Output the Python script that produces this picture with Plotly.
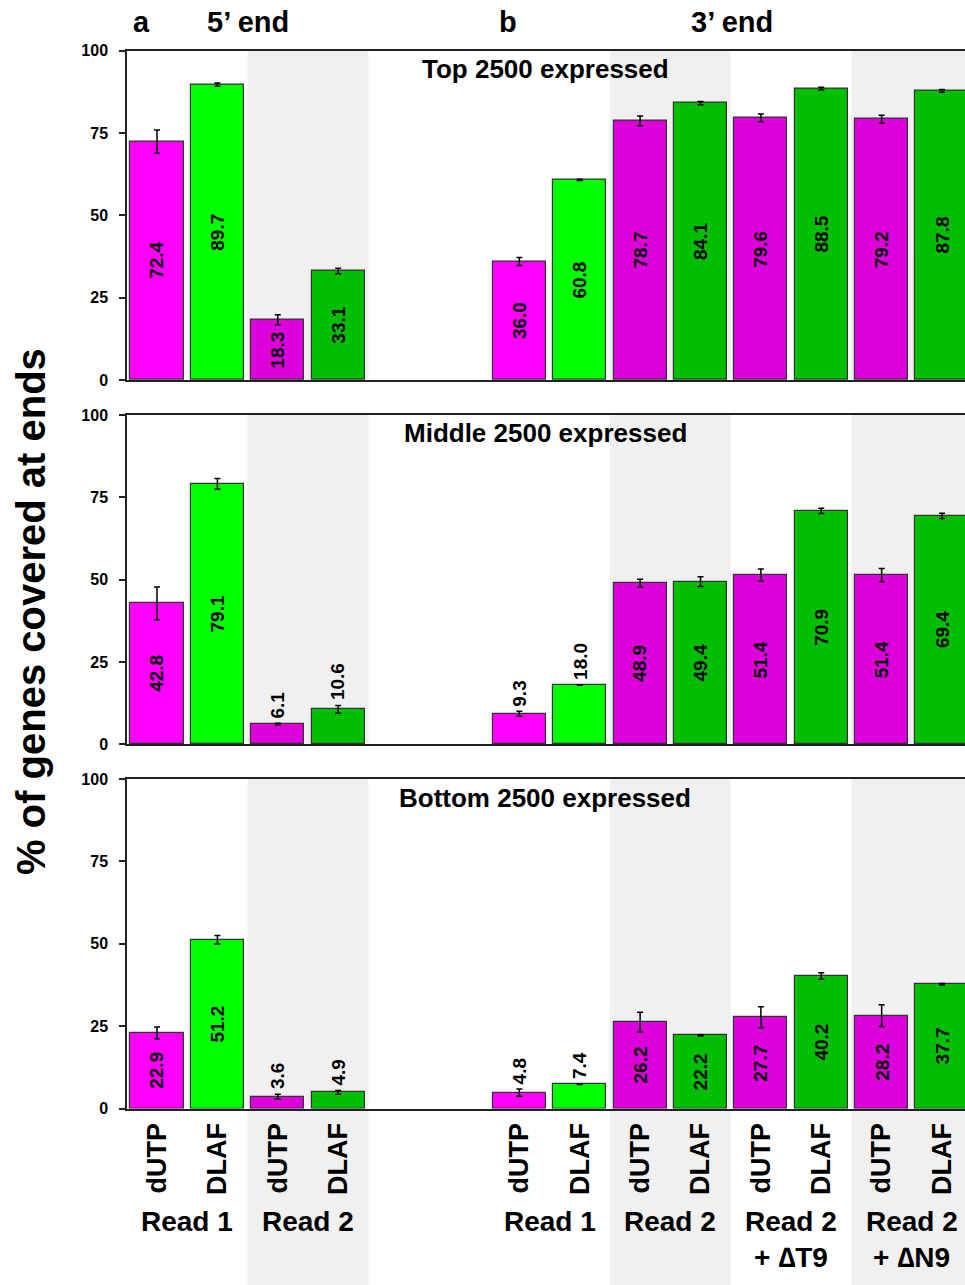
import plotly.graph_objects as go

# ---------------- data ----------------
positions = [0, 1, 2, 3, 6, 7, 8, 9, 10, 11, 12, 13]
methods = ["dUTP", "DLAF"] * 6
groups = ["Read 1", "Read 2", "Read 1", "Read 2", "Read 2", "Read 2"]
group_sub = ["", "", "", "", "+ \u2206T9", "+ \u2206N9"]
group_centers = [0.5, 2.5, 6.5, 8.5, 10.5, 12.5]
panel_titles = ["Top 2500 expressed", "Middle 2500 expressed", "Bottom 2500 expressed"]

top_vals = [72.4, 89.7, 18.3, 33.1, 36.0, 60.8, 78.7, 84.1, 79.6, 88.5, 79.2, 87.8]
top_err = [3.5, 0.5, 1.5, 0.8, 1.2, 0.2, 1.5, 0.5, 1.2, 0.4, 1.2, 0.4]
mid_vals = [42.8, 79.1, 6.1, 10.6, 9.3, 18.0, 48.9, 49.4, 51.4, 70.9, 51.4, 69.4]
mid_err = [5.0, 1.6, 0.3, 1.2, 0.7, 0.1, 1.2, 1.5, 1.8, 0.8, 2.0, 0.8]
bot_vals = [22.9, 51.2, 3.6, 4.9, 4.8, 7.4, 26.2, 22.2, 27.7, 40.2, 28.2, 37.7]
bot_err = [1.8, 1.3, 0.7, 0.6, 1.1, 0.1, 3.0, 0.2, 3.2, 1.0, 3.3, 0.2]

# label outside the bar when True
top_out = [False] * 12
mid_out = [False, False, True, True, True, True, False, False, False, False, False, False]
bot_out = [False, False, True, True, True, True, False, False, False, False, False, False]

bar_colors = ["#FF00FF", "#00FF00", "#DD00DD", "#00BF00",
              "#FF00FF", "#00FF00", "#DD00DD", "#00BF00",
              "#DD00DD", "#00BF00", "#DD00DD", "#00BF00"]

FONT = "Liberation Sans, Arial, sans-serif"
SHADE = "#F0F0F0"
H = 1285.0
L = 127.0
PW = 965.0 - L

def py(px):
    return (H - px) / H

def pxx(px):
    return (px - L) / PW

domains = [[py(380), py(50.7)], [py(744.3), py(415)], [py(1108.5), py(779)]]
title_y = [69, 433, 798]

fig = go.Figure()
panels = [(top_vals, top_err, top_out), (mid_vals, mid_err, mid_out), (bot_vals, bot_err, bot_out)]
annotations = []
shapes = []
for i, (vals, errs, outs) in enumerate(panels):
    sfx = "" if i == 0 else str(i + 1)
    fig.add_trace(go.Bar(
        x=positions, y=vals, width=0.88,
        marker=dict(color=bar_colors, line=dict(color="#333333", width=1.2)),
        error_y=dict(type="data", array=errs, color="black", thickness=1.5, width=3),
        xaxis="x" + sfx, yaxis="y" + sfx, showlegend=False, hoverinfo="skip",
    ))
    for xp, v, e, o in zip(positions, vals, errs, outs):
        if o:
            annotations.append(dict(x=xp, y=v + e, xref="x" + sfx, yref="y" + sfx,
                                    text=f"{v:.1f}", textangle=-90, showarrow=False,
                                    yanchor="bottom", yshift=3,
                                    font=dict(family=FONT, size=19, color="black", weight="bold")))
        else:
            annotations.append(dict(x=xp, y=v / 2, xref="x" + sfx, yref="y" + sfx,
                                    text=f"{v:.1f}", textangle=-90, showarrow=False,
                                    yanchor="middle",
                                    font=dict(family=FONT, size=19, color="black", weight="bold")))
    annotations.append(dict(x=pxx(545), y=py(title_y[i]), xref="paper", yref="paper",
                            text=panel_titles[i], showarrow=False, yanchor="middle",
                            font=dict(family=FONT, size=26, color="black", weight="bold")))
    y0 = 0 if i == 2 else domains[i][0]
    for c in [2.5, 8.5, 12.5]:
        shapes.append(dict(type="rect", xref="x" + sfx, yref="paper",
                           x0=c - 1, x1=c + 1, y0=y0, y1=domains[i][1],
                           fillcolor=SHADE, line=dict(width=0), layer="below"))
    xa = dict(domain=[0, 1], range=[-0.497, 13.38], anchor="y" + sfx,
              showline=True, mirror=True, linecolor="#222222", linewidth=1.5,
              ticks="", showgrid=False, zeroline=False, fixedrange=True,
              tickvals=positions, ticktext=methods,
              showticklabels=(i == 2), tickangle=-90, ticklabelstandoff=2,
              tickfont=dict(family=FONT, size=27, color="black", weight="bold"))
    ya = dict(domain=domains[i], range=[0, 100], anchor="x" + sfx,
              showline=True, linecolor="#222222", linewidth=1.5,
              ticks="outside", ticklen=6, tickwidth=1.5, tickcolor="#222222",
              tickvals=[0, 25, 50, 75, 100], showgrid=False, zeroline=False,
              ticklabelstandoff=8,
              tickfont=dict(family=FONT, size=16, color="black", weight="bold"))
    fig.layout["xaxis" + sfx] = xa
    fig.layout["yaxis" + sfx] = ya

# group labels
for gx, g, s in zip(group_centers, groups, group_sub):
    annotations.append(dict(x=gx, y=py(1221), xref="x3", yref="paper", text=g,
                            showarrow=False, yanchor="middle",
                            font=dict(family=FONT, size=28, color="black", weight="bold")))
    if s:
        annotations.append(dict(x=gx, y=py(1257), xref="x3", yref="paper", text=s,
                                showarrow=False, yanchor="middle",
                                font=dict(family=FONT, size=28, color="black", weight="bold")))

# headers
for txt, xpx in [("a", 141), ("5\u2019 end", 248), ("b", 508), ("3\u2019 end", 732)]:
    annotations.append(dict(x=pxx(xpx), y=py(22), xref="paper", yref="paper", text=txt,
                            showarrow=False, yanchor="middle", xanchor="center",
                            font=dict(family=FONT, size=29, color="black", weight="bold")))

# y-axis title
annotations.append(dict(x=pxx(31), y=py(612), xref="paper", yref="paper",
                        text="% of genes covered at ends", textangle=-90, showarrow=False,
                        xanchor="center", yanchor="middle",
                        font=dict(family=FONT, size=40, color="black", weight="bold")))

fig.update_layout(
    width=965, height=1285,
    margin=dict(l=127, r=0, t=0, b=0, autoexpand=False),
    paper_bgcolor="white", plot_bgcolor="rgba(0,0,0,0)",
    annotations=annotations, shapes=shapes, bargap=0,
)
fig.write_html("out.html")
